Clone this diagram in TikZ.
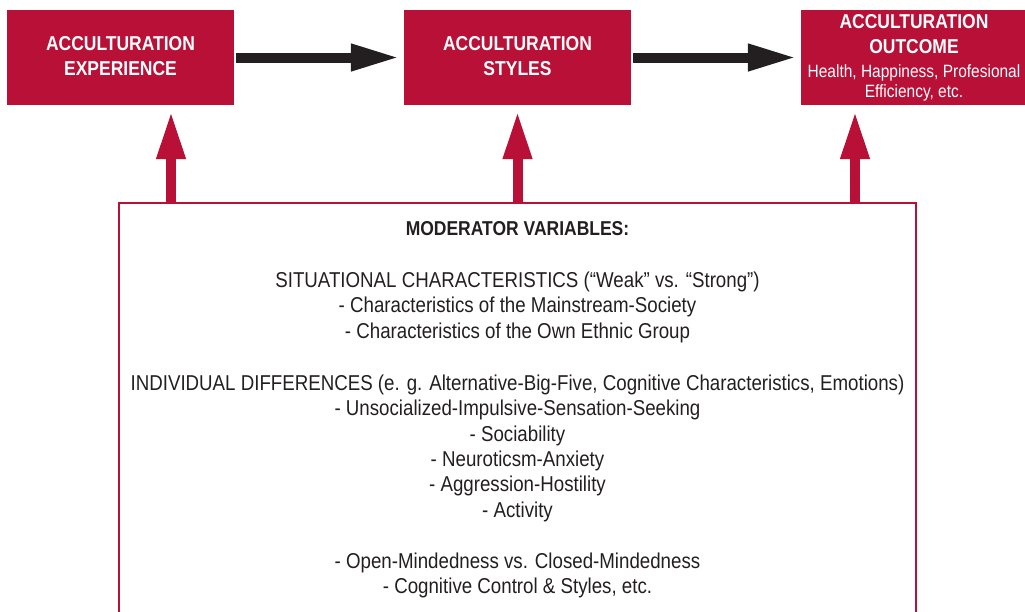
\documentclass[tikz,border=0pt]{standalone}
\usepackage{fontspec}
\setmainfont{Liberation Sans}[FakeStretch=0.87]
\usetikzlibrary{arrows.meta}
\definecolor{accred}{RGB}{184,16,55}
\definecolor{accblack}{RGB}{35,31,32}
\tikzset{
  redbox/.style={rectangle, fill=accred, draw=none, inner sep=0pt},
  boxtitle/.style={anchor=base, text=white, font=\fontsize{20.1}{20.1}\selectfont\bfseries, inner sep=0pt},
  boxsub/.style={anchor=base, text=white, font=\fontsize{17.8}{17.8}\selectfont, inner sep=0pt},
  modbox/.style={rectangle, draw=accred, line width=1.3pt, fill=none, inner sep=0pt},
  modtext/.style={anchor=base, text=accblack, font=\fontsize{21.5}{21.5}\selectfont, inner sep=0pt},
  modhead/.style={modtext, font=\fontsize{20.1}{20.1}\selectfont\bfseries},
  flowarrow/.style={draw=accblack, line width=10pt, -{Triangle[length=49pt,width=25pt]}, shorten <=2pt, shorten >=4pt},
  modarrow/.style={draw=accred, line width=10pt, -{Triangle[length=48pt,width=27pt]}, shorten >=6pt}
}
\begin{document}
\begin{tikzpicture}[x=1pt,y=-1pt]
\useasboundingbox (0,0) rectangle (1025,611);
\clip (0,0) rectangle (1025,611);
% top boxes
\node[redbox, minimum width=227pt, minimum height=95pt] (b1) at (120.5,57.5) {};
\node[redbox, minimum width=227pt, minimum height=95pt] (b2) at (517.5,57.5) {};
\node[redbox, minimum width=224pt, minimum height=95pt] (b3) at (913,57.5) {};
\node[boxtitle] (b1a) at (120.5,50) {ACCULTURATION};
\node[boxtitle] (b1b) at (120.5,75) {EXPERIENCE};
\node[boxtitle] (b2a) at (517.5,50) {ACCULTURATION};
\node[boxtitle] (b2b) at (517.5,75) {STYLES};
\node[boxtitle] (b3a) at (914,28) {ACCULTURATION};
\node[boxtitle] (b3b) at (914,53) {OUTCOME};
\node[boxsub] (b3c) at (914,77) {Health, Happiness, Profesional};
\node[boxsub] (b3d) at (914,97) {Efficiency, etc.};
% flow arrows
\draw[flowarrow] (b1.east) -- (b2.west);
\draw[flowarrow] (b2.east) -- (b3.west);
% moderator box
\node[modbox, minimum width=797pt, minimum height=430pt] (mod) at (517.5,418) {};
\coordinate (m1) at (171,203);
\coordinate (m2) at (517.5,203);
\coordinate (m3) at (855,203);
\draw[modarrow] (m1) -- (m1 |- b1.south);
\draw[modarrow] (m2) -- (m2 |- b2.south);
\draw[modarrow] (m3) -- (m3 |- b3.south);
% moderator text
\node[modhead] (t0) at (517.5,235) {MODERATOR VARIABLES:};
\node[modtext] (t1) at (517.5,287) {SITUATIONAL CHARACTERISTICS (“Weak” vs. “Strong”)};
\node[modtext] (t2) at (517.5,312.5) {- Characteristics of the Mainstream-Society};
\node[modtext] (t3) at (517.5,338) {- Characteristics of the Own Ethnic Group};
\node[modtext] (t4) at (517.5,390) {INDIVIDUAL DIFFERENCES (e. g. Alternative-Big-Five, Cognitive Characteristics, Emotions)};
\node[modtext] (t5) at (517.5,415.5) {- Unsocialized-Impulsive-Sensation-Seeking};
\node[modtext] (t6) at (517.5,441) {- Sociability};
\node[modtext] (t7) at (517.5,466) {- Neuroticsm-Anxiety};
\node[modtext] (t8) at (517.5,491.5) {- Aggression-Hostility};
\node[modtext] (t9) at (517.5,517) {- Activity};
\node[modtext] (t10) at (517.5,568) {- Open-Mindedness vs. Closed-Mindedness};
\node[modtext] (t11) at (517.5,593) {- Cognitive Control \& Styles, etc.};
\end{tikzpicture}
\end{document}
